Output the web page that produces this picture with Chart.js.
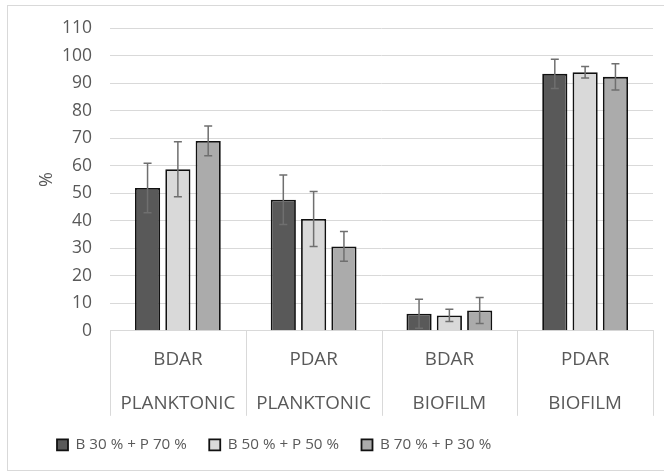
<!DOCTYPE html>
<html>
<head>
<meta charset="utf-8">
<script src="https://cdn.jsdelivr.net/npm/chart.js@4.4.1/dist/chart.umd.min.js"></script>
<style>
  html, body { margin: 0; padding: 0; background: #fff; }
  #wrap { position: relative; width: 664px; height: 472px; overflow: hidden; }
  #frame { position: absolute; left: 7px; top: 5px; width: 680px; height: 466px; border: 1px solid #d9d9d9; box-sizing: border-box; }
  canvas { position: absolute; left: 0; top: 0; }
</style>
</head>
<body>
<div id="wrap">
  <div id="frame"></div>
  <canvas id="c" width="664" height="472"></canvas>
</div>
<script>
const categories = [["BDAR", "PLANKTONIC"], ["PDAR", "PLANKTONIC"], ["BDAR", "BIOFILM"], ["PDAR", "BIOFILM"]];
const seriesNames = ["B 30 % + P 70 %", "B 50 % + P 50 %", "B 70 % + P 30 %"];
const b30 = [52, 47.7, 6.2, 93.5];
const b50 = [58.8, 40.7, 5.6, 94.1];
const b70 = [69.1, 30.7, 7.4, 92.4];
const b30Err = [9, 9, 5.3, 5.3];
const b50Err = [10, 10, 2.2, 2.1];
const b70Err = [5.4, 5.4, 4.7, 4.8];
const yTicks = [0, 10, 20, 30, 40, 50, 60, 70, 80, 90, 100, 110];

const FONT = "'Open Sans', sans-serif";
const TXT = "#595959";

const errorBars = {
  id: 'errorBars',
  afterDatasetsDraw(chart) {
    const ctx = chart.ctx;
    const y = chart.scales.y;
    ctx.save();
    ctx.strokeStyle = '#6f6f6f';
    ctx.lineWidth = 1.5;
    chart.data.datasets.forEach((ds, di) => {
      const meta = chart.getDatasetMeta(di);
      meta.data.forEach((bar, i) => {
        const v = ds.data[i], e = ds.errors[i];
        const x = bar.x;
        const yTop = y.getPixelForValue(v + e);
        const yBot = y.getPixelForValue(v - e);
        const cap = 4;
        ctx.beginPath();
        ctx.moveTo(x, yTop); ctx.lineTo(x, yBot);
        ctx.moveTo(x - cap, yTop); ctx.lineTo(x + cap, yTop);
        ctx.moveTo(x - cap, yBot); ctx.lineTo(x + cap, yBot);
        ctx.stroke();
      });
    });
    ctx.restore();
  }
};

// category separators below the axis (multi-level category axis look)
const catSeparators = {
  id: 'catSeparators',
  afterDraw(chart) {
    const xs = chart.scales.x;
    const ctx = chart.ctx;
    const n = chart.data.labels.length;
    const half = (xs.getPixelForValue(1) - xs.getPixelForValue(0)) / 2;
    const top = xs.top;
    ctx.save();
    ctx.strokeStyle = '#d9d9d9';
    ctx.lineWidth = 1;
    ctx.beginPath();
    for (let i = 0; i <= n; i++) {
      const px = Math.round(xs.getPixelForValue(Math.min(i, n - 1)) + (i === n ? half : -half)) + 0.5;
      ctx.moveTo(px, top);
      ctx.lineTo(px, top + 85);
    }
    ctx.stroke();
    ctx.restore();
  }
};

// shift legend start to match the reference's left-leaning legend
const legendShift = {
  id: 'legendShift',
  afterLayout(chart) {
    const lg = chart.legend;
    if (lg) { lg.left = 57 - lg.options.labels.padding; }
  }
};

new Chart(document.getElementById('c'), {
  type: 'bar',
  data: {
    labels: categories,
    datasets: [
      { label: seriesNames[0], data: b30, errors: b30Err, backgroundColor: '#595959', borderColor: '#111', borderWidth: 1.8 },
      { label: seriesNames[1], data: b50, errors: b50Err, backgroundColor: '#d9d9d9', borderColor: '#111', borderWidth: 1.8 },
      { label: seriesNames[2], data: b70, errors: b70Err, backgroundColor: '#ababab', borderColor: '#111', borderWidth: 1.8 }
    ]
  },
  options: {
    responsive: false,
    animation: false,
    devicePixelRatio: 1,
    categoryPercentage: 0.67,
    barPercentage: 0.83,
    layout: { padding: { left: 10, right: 11, top: 27, bottom: 9.5 } },
    plugins: {
      tooltip: { enabled: false },
      legend: {
        position: 'bottom',
        align: 'start',
        labels: {
          font: { family: FONT, size: 15.2 },
          color: TXT,
          boxWidth: 11,
          boxHeight: 11,
          padding: 22.5,
          useBorderRadius: false
        }
      }
    },
    scales: {
      x: {
        afterFit(scale) { scale.height = 84; },
        grid: { display: true, drawOnChartArea: false, drawTicks: false, color: '#d9d9d9', lineWidth: 1 },
        border: { display: true, color: '#d9d9d9' },
        ticks: { font: { family: FONT, size: 18.8, lineHeight: 2.3 }, color: TXT, padding: 7.5, maxRotation: 0, autoSkip: false }
      },
      y: {
        min: 0, max: 110,
        afterBuildTicks(scale) { scale.ticks = yTicks.map(v => ({ value: v })); },
        afterFit(scale) { scale.width = 100; },
        grid: { color: '#d9d9d9', lineWidth: 1, drawTicks: false },
        border: { display: false },
        ticks: { font: { family: FONT, size: 17.5 }, color: TXT, padding: 18 },
        title: { display: true, text: '%', font: { family: FONT, size: 18 }, color: TXT, padding: { top: 26, bottom: 0 } }
      }
    }
  },
  plugins: [errorBars, catSeparators, legendShift]
});
</script>
</body>
</html>
